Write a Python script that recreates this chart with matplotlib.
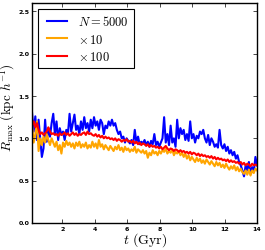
import numpy as np
import matplotlib
matplotlib.use("Agg")
from matplotlib import pyplot as plt

# R_max versus time
blue = [1.30, 1.08, 1.26, 0.98, 1.22, 1.00, 0.78, 0.88, 1.22, 0.96,
        1.12, 1.02, 1.18, 1.29, 1.05, 1.20, 0.98, 1.12, 1.04, 1.08,
        0.98, 1.10, 1.05, 1.29, 1.08, 1.18, 1.28, 1.10, 1.15, 1.05,
        1.20, 1.10, 1.25, 1.12, 1.18, 1.08, 1.22, 1.12, 1.25, 1.15,
        1.20, 1.10, 1.22, 1.18, 1.05, 1.15, 1.12, 1.20, 1.15, 1.22,
        1.15, 1.18, 1.10, 1.05, 1.08, 1.00, 1.02, 0.95, 1.00, 0.97,
        0.94, 0.98, 0.92, 1.10, 0.95, 1.02, 0.93, 0.96, 0.94, 0.98,
        0.92, 0.96, 0.90, 0.97, 0.93, 1.05, 0.92, 0.96, 0.90, 0.95,
        1.00, 1.25, 0.95, 1.05, 0.92, 1.15, 0.95, 1.00, 0.90, 1.22,
        1.00, 1.12, 1.05, 1.10, 0.98, 1.05, 0.97, 1.20, 1.00, 1.05,
        0.95, 1.03, 1.00, 1.08, 1.05, 1.10, 1.00, 0.95, 1.04, 0.92,
        1.00, 0.96, 0.90, 0.93, 0.89, 1.10, 0.92, 0.88, 0.93, 0.85,
        0.90, 0.82, 0.86, 0.80, 0.84, 0.76, 0.80, 0.72, 0.68, 0.62,
        0.55, 0.68, 0.62, 0.72, 0.58, 0.66, 0.60, 0.78, 0.68]

orange = [1.15, 0.95, 1.05, 1.20, 0.85, 1.00, 0.92, 1.02, 0.95, 1.05,
          0.98, 0.92, 1.00, 0.95, 0.90, 0.96, 0.86, 0.92, 0.82, 0.95,
          0.90, 0.97, 0.92, 0.95, 0.90, 0.94, 0.88, 0.95, 0.91, 0.96,
          0.89, 0.93, 0.90, 0.95, 0.88, 0.92, 0.89, 0.96, 0.90, 0.94,
          0.88, 0.98, 0.90, 0.93, 0.87, 0.92, 0.89, 0.86, 0.91, 0.88,
          0.85, 0.90, 0.87, 0.92, 0.86, 0.89, 0.84, 0.90, 0.86, 0.88,
          0.84, 0.87, 0.85, 0.90, 0.83, 0.87, 0.85, 0.83, 0.86, 0.82,
          0.85, 0.77, 0.83, 0.80, 0.86, 0.82, 0.84, 0.80, 0.85, 0.82,
          0.86, 0.84, 0.88, 0.82, 0.85, 0.83, 0.87, 0.80, 0.84, 0.82,
          0.85, 0.80, 0.83, 0.78, 0.82, 0.76, 0.80, 0.74, 0.78, 0.75,
          0.72, 0.77, 0.73, 0.76, 0.71, 0.74, 0.70, 0.75, 0.72, 0.69,
          0.73, 0.70, 0.67, 0.72, 0.68, 0.71, 0.66, 0.69, 0.65, 0.70,
          0.66, 0.63, 0.67, 0.64, 0.68, 0.62, 0.66, 0.61, 0.64, 0.60,
          0.58, 0.62, 0.57, 0.63, 0.56, 0.62, 0.59, 0.64, 0.62]

red = [1.15, 1.20, 1.13, 1.18, 1.10, 1.05, 1.07, 1.04, 1.06, 1.08,
       1.13, 1.08, 1.05, 1.06, 1.04, 1.05, 1.03, 1.06, 1.04, 1.05,
       1.07, 1.04, 1.06, 1.03, 1.05, 1.07, 1.04, 1.06, 1.03, 1.05,
       1.04, 1.06, 1.07, 1.04, 1.08, 1.05, 1.06, 1.04, 1.03, 1.05,
       1.02, 1.04, 1.01, 1.03, 1.00, 1.02, 1.00, 1.01, 0.99, 1.00,
       0.98, 1.00, 0.97, 0.99, 0.98, 0.96, 0.98, 0.97, 0.99, 0.96,
       0.97, 0.95, 0.97, 0.94, 0.96, 0.93, 0.95, 0.92, 0.94, 0.93,
       0.91, 0.93, 0.90, 0.92, 0.90, 0.91, 0.89, 0.90, 0.88, 0.90,
       0.87, 0.89, 0.91, 0.88, 0.86, 0.88, 0.87, 0.85, 0.87, 0.86,
       0.84, 0.86, 0.84, 0.85, 0.83, 0.84, 0.82, 0.84, 0.81, 0.83,
       0.82, 0.80, 0.82, 0.79, 0.81, 0.79, 0.80, 0.78, 0.79, 0.77,
       0.79, 0.76, 0.78, 0.75, 0.77, 0.75, 0.76, 0.74, 0.75, 0.73,
       0.75, 0.72, 0.74, 0.72, 0.73, 0.71, 0.72, 0.70, 0.72, 0.69,
       0.71, 0.68, 0.70, 0.69, 0.67, 0.70, 0.68, 0.69, 0.68]

labels = [r"$N=5000$", r"$\times\,10$", r"$\times\,100$"]
colors = ["#0000ff", "#ffa500", "#ff0000"]
t_start, t_end = 0.13, 14.0

plt.style.use("classic")
plt.rcParams["mathtext.fontset"] = "cm"

fig = plt.figure(figsize=(2.65, 2.51), dpi=100)
ax = fig.add_axes([0.121, 0.108, 0.849, 0.876])

for vals, lab, col in zip([blue, orange, red], labels, colors):
    t = np.linspace(t_start, t_end, len(vals))
    ax.plot(t, vals, color=col, lw=1.5, label=lab)

ax.set_xlim(t_start, t_end)
ax.set_ylim(0, 2.6)
ax.set_xticks([2, 4, 6, 8, 10, 12, 14])
ax.set_yticks([0.0, 0.5, 1.0, 1.5, 2.0, 2.5])
ax.tick_params(labelsize=4.5, length=3, direction="in", pad=2)
for lbl in ax.get_xticklabels() + ax.get_yticklabels():
    lbl.set_fontweight("bold")

ax.set_xlabel(r"$t\ ({\rm Gyr})$", fontsize=10, labelpad=0)
ax.set_ylabel(r"$R_{\rm max}\ ({\rm kpc}\ h^{-1})$", fontsize=9.5)
ax.yaxis.set_label_coords(-0.067, 0.53)

leg = ax.legend(loc="upper left", fontsize=9, handlelength=2.2,
                borderpad=0.4, labelspacing=0.35, handletextpad=0.6,
                fancybox=False, framealpha=1)
leg.get_frame().set_linewidth(0.8)

fig.savefig("out.png", dpi=100)
